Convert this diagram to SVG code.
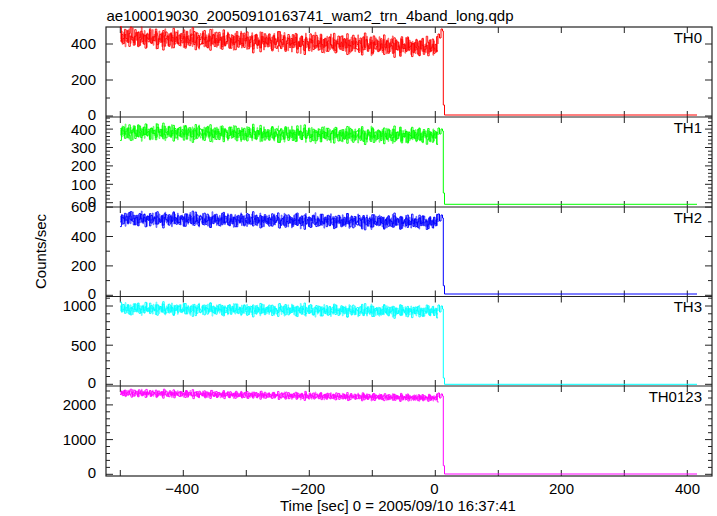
<svg xmlns="http://www.w3.org/2000/svg" xmlns:xlink="http://www.w3.org/1999/xlink" width="717" height="516" viewBox="0 0 717 516">
<style>
text{font-family:"Liberation Sans",Arial,Helvetica,sans-serif;font-size:15px;fill:#000}
.yl{text-anchor:end}
.xl{text-anchor:middle}
.fr{fill:none;stroke:#222;stroke-width:1.2}
.tk{fill:none;stroke:#222;stroke-width:1}
.xt{fill:none;stroke:#222;stroke-width:1;stroke-dasharray:6 78 12 78 12 77.5 12 77.5 12 78 6}
.nz{fill:none;stroke-width:0.9;vector-effect:non-scaling-stroke}
.h{opacity:0.7}
.ln{fill:none;stroke-width:1}
.c0{stroke:#ff0000}.c1{stroke:#00ff00}.c2{stroke:#0000ff}.c3{stroke:#00ffff}.c4{stroke:#ff00ff}
</style>
<defs>
<path id="noise" class="nz" d="M0,3h1.5V-2h1.5V5h1.5V-6h1.5V1h1.5V4h1.5V-3h1.5V-8h1.5V2h1.5V6h1.5V-1h1.5V-4h1.5V7h1.5V0h1.5V-5h1.5V3h1.5V-2h1.5V8h1.5V-3h1.5V1h1.5V-6h1.5V4h1.5V2h1.5V-1h1.5V-7h1.5V5h1.5V0h1.5V3h1.5V-4h1.5V9h1.5V-2h1.5V-5h1.5V1h1.5V6h1.5V-3h1.5V2h1.5V-8h1.5V4h1.5V-1h1.5V3h1.5V5h1.5V-4h1.5V0h1.5V-2h1.5V7h1.5V-6h1.5V3h1.5V1h1.5V-3h1.5V-9h1.5V4h1.5V2h1.5V-5h1.5V6h1.5V0h1.5V-2h1.5V3h1.5V-7h1.5V5h1.5V1h1.5V-3h1.5V8h1.5V-1h1.5V-4h1.5V2h1.5V-6h1.5V4h1.5V0h1.5V-2h1.5V5h1.5V-8h1.5V3h1.5V1h1.5V-5h1.5V6h1.5V-1h1.5V2h1.5V-3h1.5V7h1.5V-4h1.5V0h1.5V3h1.5V-6h1.5V2h1.5V5h1.5V-2h1.5V-7h1.5V4h1.5V1h1.5V-3h1.5V6h1.5V-1h1.5V-5h1.5V3h1.5V0h1.5V8h1.5V-4h1.5V2h1.5V-6h1.5V1h1.5V4h1.5V-3h1.5V-1h1.5V6h1.5V-5h1.5V2h1.5V0h1.5V-8h1.5V3h1.5V5h1.5V-2h1.5V-4h1.5V7h1.5V1h1.5V-6h1.5V2h1.5V-3h1.5V4h1.5V0h1.5V-7h1.5V5h1.5V-1h1.5V3h1.5V-5h1.5V2h1.5V9h1.5V-4h1.5V-1h1.5V6h1.5V-3h1.5V0h1.5V-6h1.5V4h1.5V2h1.5V-2h1.5V5h1.5V-7h1.5V1h1.5V3h1.5V-4h1.5V6h1.5V-2h1.5V-5h1.5V1h1.5V4h1.5V-3h1.5V7h1.5V0h1.5V-6h1.5V2h1.5V-1h1.5V5h1.5V-4h1.5V3h1.5V-8h1.5V1h1.5V6h1.5V-2h1.5V0h1.5V-5h1.5V3h1.5V4h1.5V-3h1.5V-1h1.5V8h1.5V-6h1.5V2h1.5V-4h1.5V5h1.5V0h1.5V-2h1.5V6h1.5V-7h1.5V3h1.5V1h1.5V-3h1.5V4h1.5V-5h1.5V2h1.5V7h1.5V-1h1.5V-4h1.5V5h1.5V-2h1.5V0h1.5V6h1.5V-6h1.5V3h1.5V-3h1.5V1h1.5V8h1.5V-5h1.5V2h1.5V-1h1.5V4h1.5V-7h1.5V3h1.5V0h1.5V-2h1.5V5h1.5V-3h1.5V1h1.5V6h1.5V-4h1.5V2h1.5V-6h1.5V4h1.5V0h1.5V-1h1.5V7h1.5V-5h1.5V3h1.5V-2h1.5V1h1.5V4h1.5V-8h1.5"/>
</defs>
<rect width="717" height="516" fill="#fff"/>
<text x="106.5" y="20.5">ae100019030_20050910163741_wam2_trn_4band_long.qdp</text>

<g id="frame">
<rect class="fr" x="106" y="27" width="606" height="449"/>
<path class="fr" d="M106,117H712M106,207H712M106,296.5H712M106,386H712"/>
<path class="xt" d="M120.3,27V476M183.3,27V476M246.3,27V476M309.3,27V476M372.3,27V476M435.3,27V476M498.3,27V476M561.3,27V476M624.3,27V476M687.3,27V476"/>
<path class="tk" d="M106,116h7M106,80h7M106,44h7M712,116h-7M712,80h-7M712,44h-7M106,202.7h7M106,184.3h7M106,165.9h7M106,147.5h7M106,129.1h7M712,202.7h-7M712,184.3h-7M712,165.9h-7M712,147.5h-7M712,129.1h-7M106,295.3h7M106,265.9h7M106,236.5h7M106,207.1h7M712,295.3h-7M712,265.9h-7M712,236.5h-7M712,207.1h-7M106,384.3h7M106,345.2h7M106,306h7M712,384.3h-7M712,345.2h-7M712,306h-7M106,474.3h7M106,439.6h7M106,404.9h7M712,474.3h-7M712,439.6h-7M712,404.9h-7"/>
<path class="tk" d="M106,98h4M106,62h4M712,98h-4M712,62h-4M106,199h4M106,195.3h4M106,191.7h4M106,188h4M106,180.6h4M106,176.9h4M106,173.3h4M106,169.6h4M106,162.2h4M106,158.5h4M106,154.9h4M106,151.2h4M106,143.8h4M106,140.1h4M106,136.5h4M106,132.8h4M106,125.4h4M106,121.7h4M106,118.1h4M712,199h-4M712,195.3h-4M712,191.7h-4M712,188h-4M712,180.6h-4M712,176.9h-4M712,173.3h-4M712,169.6h-4M712,162.2h-4M712,158.5h-4M712,154.9h-4M712,151.2h-4M712,143.8h-4M712,140.1h-4M712,136.5h-4M712,132.8h-4M712,125.4h-4M712,121.7h-4M712,118.1h-4M106,280.6h4M106,251.2h4M106,221.8h4M712,280.6h-4M712,251.2h-4M712,221.8h-4M106,376.5h4M106,368.6h4M106,360.8h4M106,353h4M106,337.3h4M106,329.5h4M106,321.7h4M106,313.8h4M106,298.2h4M712,376.5h-4M712,368.6h-4M712,360.8h-4M712,353h-4M712,337.3h-4M712,329.5h-4M712,321.7h-4M712,313.8h-4M712,298.2h-4M106,467.4h4M106,460.4h4M106,453.5h4M106,446.5h4M106,432.7h4M106,425.7h4M106,418.8h4M106,411.8h4M106,398h4M106,391h4M712,467.4h-4M712,460.4h-4M712,453.5h-4M712,446.5h-4M712,432.7h-4M712,425.7h-4M712,418.8h-4M712,411.8h-4M712,398h-4M712,391h-4"/>
</g>

<g id="y-labels">
<text class="yl" x="96" y="49.4">400</text>
<text class="yl" x="96" y="85.4">200</text>
<text class="yl" x="96" y="120">0</text>
<text class="yl" x="96" y="134.5">400</text>
<text class="yl" x="96" y="152.9">300</text>
<text class="yl" x="96" y="171.3">200</text>
<text class="yl" x="96" y="189.7">100</text>
<text class="yl" x="96" y="206.6">0</text>
<text class="yl" x="96" y="212.4">600</text>
<text class="yl" x="96" y="241.9">400</text>
<text class="yl" x="96" y="271.3">200</text>
<text class="yl" x="96" y="299.2">0</text>
<text class="yl" x="96" y="311.4">1000</text>
<text class="yl" x="96" y="350.6">500</text>
<text class="yl" x="96" y="388.2">0</text>
<text class="yl" x="96" y="410.3">2000</text>
<text class="yl" x="96" y="445">1000</text>
<text class="yl" x="96" y="478.2">0</text>
</g>

<g id="x-labels">
<text class="yl" x="199" y="494.3">−400</text>
<text class="yl" x="325" y="494.3">−200</text>
<text class="xl" x="434.5" y="494.3">0</text>
<text class="xl" x="561.5" y="494.3">200</text>
<text class="xl" x="687.5" y="494.3">400</text>
<text x="280" y="511">Time [sec] 0 = 2005/09/10 16:37:41</text>
<text transform="translate(46,251.5) rotate(-90)" text-anchor="middle">Counts/sec</text>
</g>

<g id="panel-th0">
<use xlink:href="#noise" href="#noise" class="c0" transform="matrix(0.9815,0.0309,0,1.3,120,37)"/>
<use xlink:href="#noise" href="#noise" class="c0" transform="matrix(-0.9815,-0.0309,0,1.3,438,47)"/>
<use xlink:href="#noise" href="#noise" class="c0 h" transform="matrix(0.491,0.0154,0,-1.2,120,37)"/>
<use xlink:href="#noise" href="#noise" class="c0 h" transform="matrix(0.491,0.0154,0,1.2,279,42)"/>
<path class="ln c0" d="M438,44V34H439.5V38H441V29H442.5V31H443.3V105H444.5V115H697"/>
<text class="yl" x="702" y="42.7">TH0</text>
</g>
<g id="panel-th1">
<use xlink:href="#noise" href="#noise" class="c1" transform="matrix(0.9815,0.0123,0,-1.05,120,132)"/>
<use xlink:href="#noise" href="#noise" class="c1" transform="matrix(-0.9815,-0.0123,0,-1.05,438,136)"/>
<use xlink:href="#noise" href="#noise" class="c1 h" transform="matrix(0.491,0.0062,0,1,120,132)"/>
<use xlink:href="#noise" href="#noise" class="c1 h" transform="matrix(0.491,0.0062,0,-1,279,134)"/>
<path class="ln c1" d="M438,135V128H439.5V134H441V129H442.5V131H443.3V193H444.5V204.3H697"/>
<text class="yl" x="702" y="132.7">TH1</text>
</g>
<g id="panel-th2">
<use xlink:href="#noise" href="#noise" class="c2" transform="matrix(0.9815,0.0093,0,0.95,120,219)"/>
<use xlink:href="#noise" href="#noise" class="c2" transform="matrix(-0.9815,-0.0093,0,-0.95,438,222)"/>
<use xlink:href="#noise" href="#noise" class="c2 h" transform="matrix(0.491,0.0046,0,-0.9,120,219)"/>
<use xlink:href="#noise" href="#noise" class="c2 h" transform="matrix(0.491,0.0046,0,0.9,279,220.5)"/>
<path class="ln c2" d="M438,222V214H439.5V221H441V215H442.5V218H443.3V285.7H444.5V294H697"/>
<text class="yl" x="702" y="222.7">TH2</text>
</g>
<g id="panel-th3">
<use xlink:href="#noise" href="#noise" class="c3" transform="matrix(-0.9815,-0.0093,0,0.8,438,311.5)"/>
<use xlink:href="#noise" href="#noise" class="c3" transform="matrix(0.9815,0.0093,0,-0.8,120,308.5)"/>
<use xlink:href="#noise" href="#noise" class="c3 h" transform="matrix(0.491,0.0046,0,0.75,120,308.5)"/>
<use xlink:href="#noise" href="#noise" class="c3 h" transform="matrix(0.491,0.0046,0,-0.75,279,310)"/>
<path class="ln c3" d="M438,311V305H439.5V312H441V306H442.5V309H443.3V378H444.5V384.3H697"/>
<text class="yl" x="702" y="312.2">TH3</text>
</g>
<g id="panel-th0123">
<use xlink:href="#noise" href="#noise" class="c4" transform="matrix(0.9815,0.0154,0,0.5,120,393)"/>
<use xlink:href="#noise" href="#noise" class="c4" transform="matrix(0.9815,0.0154,0,-0.5,120.75,393)"/>
<use xlink:href="#noise" href="#noise" class="c4 h" transform="matrix(0.491,0.0077,0,-0.45,120,393)"/>
<use xlink:href="#noise" href="#noise" class="c4 h" transform="matrix(0.491,0.0077,0,0.45,279,395.5)"/>
<path class="ln c4" d="M438,397V393H439.5V398H441V394H442.5V396H443.3V465.7H444.5V474H697"/>
<text class="yl" x="702" y="401.7">TH0123</text>
</g>
</svg>
